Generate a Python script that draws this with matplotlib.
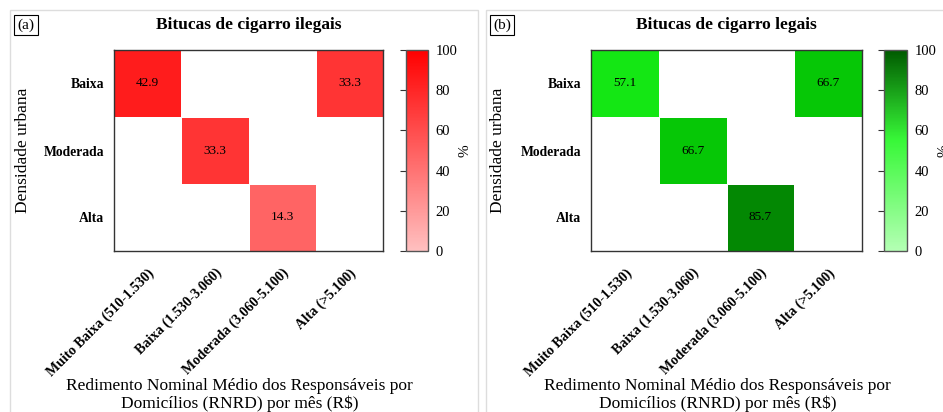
import numpy as np
import matplotlib
matplotlib.use("Agg")
import matplotlib.pyplot as plt
from matplotlib.colors import LinearSegmentedColormap, Normalize
from matplotlib.cm import ScalarMappable
from matplotlib.patches import Rectangle

plt.rcParams['font.family'] = ['Liberation Serif', 'DejaVu Serif']

# dados
densidade = ['Baixa', 'Moderada', 'Alta']
renda = ['Muito Baixa (510-1.530)', 'Baixa (1.530-3.060)',
         'Moderada (3.060-5.100)', 'Alta (>5.100)']
nan = np.nan
ilegais = [[42.9, nan, nan, 33.3],
           [nan, 33.3, nan, nan],
           [nan, nan, 14.3, nan]]
legais = [[57.1, nan, nan, 66.7],
          [nan, 66.7, nan, nan],
          [nan, nan, 85.7, nan]]

W, H = 943, 412
fig = plt.figure(figsize=(W / 100, H / 100), dpi=100)


def px(x0, y0, x1, y1):
    # retangulo em pixels (origem no topo) -> coordenadas da figura
    return [x0 / W, 1 - y1 / H, (x1 - x0) / W, (y1 - y0) / H]


# molduras cinza dos dois paineis
for x0, x1 in [(10, 478), (486, 960)]:
    fig.patches.append(Rectangle((x0 / W, -0.1), (x1 - x0) / W, 1 - 10 / H + 0.1,
                                 transform=fig.transFigure, fill=False,
                                 edgecolor='#dddddd', lw=1.0))

# mapas de cores: celulas e barra de cores
cell_red = LinearSegmentedColormap.from_list('cr', ['#ff8888', '#ff0a0a'])
cbar_red = LinearSegmentedColormap.from_list('br', ['#ffc0c0', '#ff0000'])
cell_green = LinearSegmentedColormap.from_list(
    'cg', [(0, '#1eff1e'), (0.33, '#06c806'), (1, '#005800')])
cbar_green = LinearSegmentedColormap.from_list(
    'bg', [(0, '#b4ffb4'), (0.55, '#38f838'), (1, '#005a00')])

paineis = [
    ('(a)', 'Bitucas de cigarro ilegais', ilegais, cell_red, Normalize(0, 50), cbar_red,
     (114, 383), (406, 428), 31),
    ('(b)', 'Bitucas de cigarro legais', legais, cell_green, Normalize(50, 100), cbar_green,
     (591, 862), (884, 907), 506),
]

for letra, titulo, dados, cmap_c, norm_c, cmap_b, (ax0, ax1), (cb0, cb1), ylx in paineis:
    ax = fig.add_axes(px(ax0, 50, ax1, 251))
    z = np.ma.masked_invalid(np.array(dados))
    ax.pcolormesh(z, cmap=cmap_c, norm=norm_c, edgecolors='white', linewidth=0.6)
    ax.set_xlim(0, len(renda))
    ax.set_ylim(len(densidade), 0)

    for i in range(len(densidade)):
        for j in range(len(renda)):
            v = dados[i][j]
            if not np.isnan(v):
                ax.text(j + 0.5, i + 0.5, f'{v:.1f}', ha='center', va='center', fontsize=9.5)

    ax.set_xticks(np.arange(len(renda)) + 0.5)
    ax.set_xticklabels(renda, rotation=45, ha='right', rotation_mode='anchor',
                       fontsize=10.2, fontweight='bold')
    ax.set_yticks(np.arange(len(densidade)) + 0.5)
    ax.set_yticklabels(densidade, fontsize=9.8, fontweight='bold')
    ax.tick_params(axis='x', length=0, pad=11)
    ax.tick_params(axis='y', length=0, pad=7)
    for s in ax.spines.values():
        s.set_color('#333333')
        s.set_linewidth(1.0)

    ax.set_title(titulo, fontsize=12.5, fontweight='bold', pad=15)
    ax.set_ylabel('Densidade urbana', fontsize=12.5)
    ax.yaxis.set_label_coords((ylx - ax0) / (ax1 - ax0), 0.5)
    ax.set_xlabel('Redimento Nominal Médio dos Responsáveis por\nDomicílios (RNRD) por mês (R$)',
                  fontsize=12.5, linespacing=1.15)
    ax.xaxis.set_label_coords(0.467, -0.63)

    cax = fig.add_axes(px(cb0, 50, cb1, 251))
    cb = fig.colorbar(ScalarMappable(norm=Normalize(0, 100), cmap=cmap_b), cax=cax)
    cb.set_ticks([0, 20, 40, 60, 80, 100])
    cax.tick_params(left=True, right=False, labelleft=False, labelright=True,
                    labelsize=10.5, length=4, width=0.8, color='#333333', pad=1.5)
    cb.outline.set_edgecolor('#555555')
    cb.outline.set_linewidth(1.0)
    cb.set_label('%', fontsize=11, labelpad=1)

    bx = 26 if letra == '(a)' else 502
    fig.text(bx / W, 1 - 25 / H, letra, ha='center', va='center', fontsize=11,
             bbox=dict(boxstyle='square,pad=0.2', facecolor='white', edgecolor='black', lw=0.8))

fig.savefig('out.png', dpi=100)
